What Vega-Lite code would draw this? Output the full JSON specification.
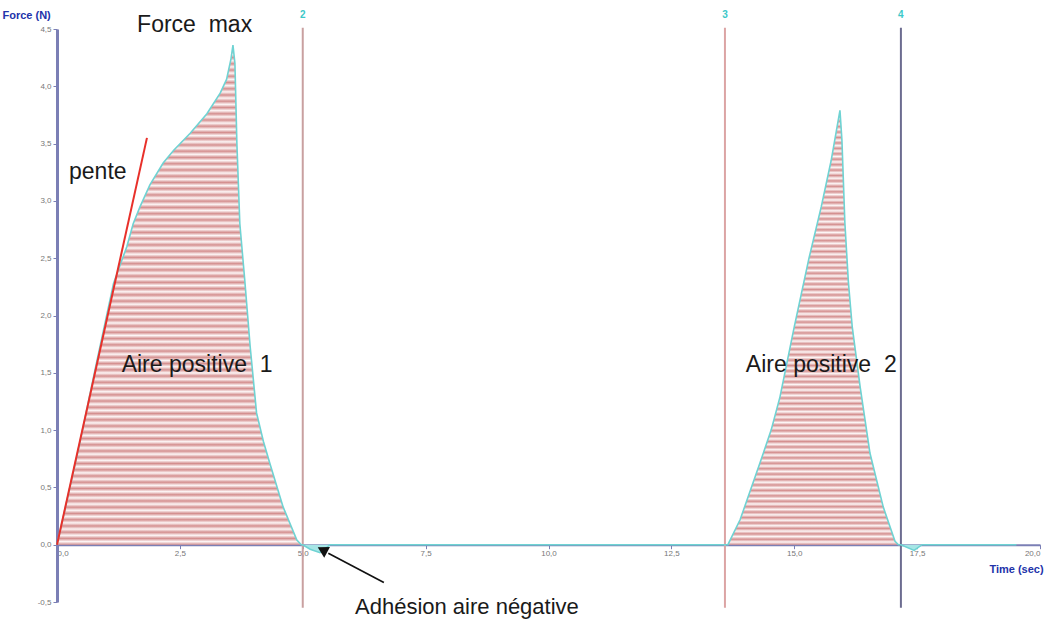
{
  "$schema": "https://vega.github.io/schema/vega-lite/v6.json",
  "width": 983,
  "height": 573,
  "autosize": {"type": "none"},
  "padding": {"left": 57, "top": 29, "right": 15, "bottom": 21},
  "background": "white",
  "config": {
    "view": {"stroke": null},
    "locale": {"number": {"decimal": ",", "thousands": " ", "grouping": [3], "currency": ["", " €"], "minus": "-"}},
    "font": "Liberation Sans"
  },
  "datasets": {
    "curve": [
      {"t": 0, "f": 0, "part": "pos1"},
      {"t": 0.45, "f": 0.86, "part": "pos1"},
      {"t": 0.8, "f": 1.58, "part": "pos1"},
      {"t": 1.15, "f": 2.28, "part": "pos1"},
      {"t": 1.3, "f": 2.46, "part": "pos1"},
      {"t": 1.42, "f": 2.6, "part": "pos1"},
      {"t": 1.55, "f": 2.8, "part": "pos1"},
      {"t": 1.69, "f": 2.95, "part": "pos1"},
      {"t": 1.89, "f": 3.14, "part": "pos1"},
      {"t": 2.16, "f": 3.33, "part": "pos1"},
      {"t": 2.37, "f": 3.44, "part": "pos1"},
      {"t": 2.71, "f": 3.59, "part": "pos1"},
      {"t": 3.05, "f": 3.76, "part": "pos1"},
      {"t": 3.32, "f": 3.94, "part": "pos1"},
      {"t": 3.45, "f": 4.06, "part": "pos1"},
      {"t": 3.54, "f": 4.24, "part": "pos1"},
      {"t": 3.58, "f": 4.36, "part": "pos1"},
      {"t": 3.62, "f": 4.2, "part": "pos1"},
      {"t": 3.66, "f": 3.5, "part": "pos1"},
      {"t": 3.72, "f": 2.8, "part": "pos1"},
      {"t": 3.82, "f": 2.31, "part": "pos1"},
      {"t": 3.93, "f": 1.73, "part": "pos1"},
      {"t": 4.06, "f": 1.15, "part": "pos1"},
      {"t": 4.2, "f": 0.9, "part": "pos1"},
      {"t": 4.33, "f": 0.71, "part": "pos1"},
      {"t": 4.6, "f": 0.33, "part": "pos1"},
      {"t": 4.88, "f": 0.04, "part": "pos1"},
      {"t": 4.97, "f": 0, "part": "pos1"},
      {"t": 5.0, "f": 0, "part": "neg1"},
      {"t": 5.15, "f": -0.04, "part": "neg1"},
      {"t": 5.35, "f": -0.07, "part": "neg1"},
      {"t": 5.45, "f": -0.04, "part": "neg1"},
      {"t": 5.55, "f": 0, "part": "neg1"},
      {"t": 13.65, "f": 0, "part": "pos2"},
      {"t": 13.9, "f": 0.22, "part": "pos2"},
      {"t": 14.3, "f": 0.71, "part": "pos2"},
      {"t": 14.53, "f": 1.0, "part": "pos2"},
      {"t": 14.71, "f": 1.29, "part": "pos2"},
      {"t": 15.0, "f": 1.9, "part": "pos2"},
      {"t": 15.3, "f": 2.5, "part": "pos2"},
      {"t": 15.55, "f": 2.95, "part": "pos2"},
      {"t": 15.75, "f": 3.35, "part": "pos2"},
      {"t": 15.93, "f": 3.79, "part": "pos2"},
      {"t": 15.97, "f": 3.53, "part": "pos2"},
      {"t": 16.03, "f": 2.81, "part": "pos2"},
      {"t": 16.1, "f": 2.3, "part": "pos2"},
      {"t": 16.18, "f": 1.9, "part": "pos2"},
      {"t": 16.34, "f": 1.38, "part": "pos2"},
      {"t": 16.54, "f": 0.8, "part": "pos2"},
      {"t": 16.81, "f": 0.33, "part": "pos2"},
      {"t": 17.05, "f": 0.03, "part": "pos2"},
      {"t": 17.12, "f": 0, "part": "pos2"},
      {"t": 17.17, "f": 0, "part": "neg2"},
      {"t": 17.44, "f": -0.05, "part": "neg2"},
      {"t": 17.6, "f": 0, "part": "neg2"},
      {"t": 19.52, "f": 0, "part": "flat"}
    ],
    "markers": [
      {"t": 5.0, "label": "2"},
      {"t": 13.59, "label": "3"},
      {"t": 17.17, "label": "4"}
    ],
    "notes": [
      {"t": 2.8, "f": 4.535, "label": "Force\u00a0 max"},
      {"t": 0.83, "f": 3.25, "label": "pente"},
      {"t": 2.85, "f": 1.57, "label": "Aire positive\u00a0 1"},
      {"t": 15.55, "f": 1.57, "label": "Aire positive\u00a0 2"}
    ],
    "notes2": [
      {"t": 8.34, "f": -0.54, "label": "Adhésion aire négative"}
    ],
    "pente": [{"t": 0, "f": 0, "t2": 1.83, "f2": 3.55}],
    "arrow": [{"t": 6.65, "f": -0.33, "t2": 5.52, "f2": -0.075}],
    "arrowhead": [{"t": 5.4, "f": -0.045}]
  },
  "layer": [
    {
      "data": {"name": "curve"},
      "transform": [{"filter": "datum.part === 'pos1' || datum.part === 'pos2'"}],
      "mark": {
        "type": "area",
        "color": {
          "gradient": "linear", "x1": 0, "y1": 0, "x2": 0, "y2": 1,
          "stops": [
            {"offset": 0, "color": "#d48f8f"}, {"offset": 0.00625, "color": "#fdf6f6"},
            {"offset": 0.0125, "color": "#d48f8f"}, {"offset": 0.01875, "color": "#fdf6f6"},
            {"offset": 0.025, "color": "#d48f8f"}, {"offset": 0.03125, "color": "#fdf6f6"},
            {"offset": 0.0375, "color": "#d48f8f"}, {"offset": 0.04375, "color": "#fdf6f6"},
            {"offset": 0.05, "color": "#d48f8f"}, {"offset": 0.05625, "color": "#fdf6f6"},
            {"offset": 0.0625, "color": "#d48f8f"}, {"offset": 0.06875, "color": "#fdf6f6"},
            {"offset": 0.075, "color": "#d48f8f"}, {"offset": 0.08125, "color": "#fdf6f6"},
            {"offset": 0.0875, "color": "#d48f8f"}, {"offset": 0.09375, "color": "#fdf6f6"},
            {"offset": 0.1, "color": "#d48f8f"}, {"offset": 0.10625, "color": "#fdf6f6"},
            {"offset": 0.1125, "color": "#d48f8f"}, {"offset": 0.11875, "color": "#fdf6f6"},
            {"offset": 0.125, "color": "#d48f8f"}, {"offset": 0.13125, "color": "#fdf6f6"},
            {"offset": 0.1375, "color": "#d48f8f"}, {"offset": 0.14375, "color": "#fdf6f6"},
            {"offset": 0.15, "color": "#d48f8f"}, {"offset": 0.15625, "color": "#fdf6f6"},
            {"offset": 0.1625, "color": "#d48f8f"}, {"offset": 0.16875, "color": "#fdf6f6"},
            {"offset": 0.175, "color": "#d48f8f"}, {"offset": 0.18125, "color": "#fdf6f6"},
            {"offset": 0.1875, "color": "#d48f8f"}, {"offset": 0.19375, "color": "#fdf6f6"},
            {"offset": 0.2, "color": "#d48f8f"}, {"offset": 0.20625, "color": "#fdf6f6"},
            {"offset": 0.2125, "color": "#d48f8f"}, {"offset": 0.21875, "color": "#fdf6f6"},
            {"offset": 0.225, "color": "#d48f8f"}, {"offset": 0.23125, "color": "#fdf6f6"},
            {"offset": 0.2375, "color": "#d48f8f"}, {"offset": 0.24375, "color": "#fdf6f6"},
            {"offset": 0.25, "color": "#d48f8f"}, {"offset": 0.25625, "color": "#fdf6f6"},
            {"offset": 0.2625, "color": "#d48f8f"}, {"offset": 0.26875, "color": "#fdf6f6"},
            {"offset": 0.275, "color": "#d48f8f"}, {"offset": 0.28125, "color": "#fdf6f6"},
            {"offset": 0.2875, "color": "#d48f8f"}, {"offset": 0.29375, "color": "#fdf6f6"},
            {"offset": 0.3, "color": "#d48f8f"}, {"offset": 0.30625, "color": "#fdf6f6"},
            {"offset": 0.3125, "color": "#d48f8f"}, {"offset": 0.31875, "color": "#fdf6f6"},
            {"offset": 0.325, "color": "#d48f8f"}, {"offset": 0.33125, "color": "#fdf6f6"},
            {"offset": 0.3375, "color": "#d48f8f"}, {"offset": 0.34375, "color": "#fdf6f6"},
            {"offset": 0.35, "color": "#d48f8f"}, {"offset": 0.35625, "color": "#fdf6f6"},
            {"offset": 0.3625, "color": "#d48f8f"}, {"offset": 0.36875, "color": "#fdf6f6"},
            {"offset": 0.375, "color": "#d48f8f"}, {"offset": 0.38125, "color": "#fdf6f6"},
            {"offset": 0.3875, "color": "#d48f8f"}, {"offset": 0.39375, "color": "#fdf6f6"},
            {"offset": 0.4, "color": "#d48f8f"}, {"offset": 0.40625, "color": "#fdf6f6"},
            {"offset": 0.4125, "color": "#d48f8f"}, {"offset": 0.41875, "color": "#fdf6f6"},
            {"offset": 0.425, "color": "#d48f8f"}, {"offset": 0.43125, "color": "#fdf6f6"},
            {"offset": 0.4375, "color": "#d48f8f"}, {"offset": 0.44375, "color": "#fdf6f6"},
            {"offset": 0.45, "color": "#d48f8f"}, {"offset": 0.45625, "color": "#fdf6f6"},
            {"offset": 0.4625, "color": "#d48f8f"}, {"offset": 0.46875, "color": "#fdf6f6"},
            {"offset": 0.475, "color": "#d48f8f"}, {"offset": 0.48125, "color": "#fdf6f6"},
            {"offset": 0.4875, "color": "#d48f8f"}, {"offset": 0.49375, "color": "#fdf6f6"},
            {"offset": 0.5, "color": "#d48f8f"}, {"offset": 0.50625, "color": "#fdf6f6"},
            {"offset": 0.5125, "color": "#d48f8f"}, {"offset": 0.51875, "color": "#fdf6f6"},
            {"offset": 0.525, "color": "#d48f8f"}, {"offset": 0.53125, "color": "#fdf6f6"},
            {"offset": 0.5375, "color": "#d48f8f"}, {"offset": 0.54375, "color": "#fdf6f6"},
            {"offset": 0.55, "color": "#d48f8f"}, {"offset": 0.55625, "color": "#fdf6f6"},
            {"offset": 0.5625, "color": "#d48f8f"}, {"offset": 0.56875, "color": "#fdf6f6"},
            {"offset": 0.575, "color": "#d48f8f"}, {"offset": 0.58125, "color": "#fdf6f6"},
            {"offset": 0.5875, "color": "#d48f8f"}, {"offset": 0.59375, "color": "#fdf6f6"},
            {"offset": 0.6, "color": "#d48f8f"}, {"offset": 0.60625, "color": "#fdf6f6"},
            {"offset": 0.6125, "color": "#d48f8f"}, {"offset": 0.61875, "color": "#fdf6f6"},
            {"offset": 0.625, "color": "#d48f8f"}, {"offset": 0.63125, "color": "#fdf6f6"},
            {"offset": 0.6375, "color": "#d48f8f"}, {"offset": 0.64375, "color": "#fdf6f6"},
            {"offset": 0.65, "color": "#d48f8f"}, {"offset": 0.65625, "color": "#fdf6f6"},
            {"offset": 0.6625, "color": "#d48f8f"}, {"offset": 0.66875, "color": "#fdf6f6"},
            {"offset": 0.675, "color": "#d48f8f"}, {"offset": 0.68125, "color": "#fdf6f6"},
            {"offset": 0.6875, "color": "#d48f8f"}, {"offset": 0.69375, "color": "#fdf6f6"},
            {"offset": 0.7, "color": "#d48f8f"}, {"offset": 0.70625, "color": "#fdf6f6"},
            {"offset": 0.7125, "color": "#d48f8f"}, {"offset": 0.71875, "color": "#fdf6f6"},
            {"offset": 0.725, "color": "#d48f8f"}, {"offset": 0.73125, "color": "#fdf6f6"},
            {"offset": 0.7375, "color": "#d48f8f"}, {"offset": 0.74375, "color": "#fdf6f6"},
            {"offset": 0.75, "color": "#d48f8f"}, {"offset": 0.75625, "color": "#fdf6f6"},
            {"offset": 0.7625, "color": "#d48f8f"}, {"offset": 0.76875, "color": "#fdf6f6"},
            {"offset": 0.775, "color": "#d48f8f"}, {"offset": 0.78125, "color": "#fdf6f6"},
            {"offset": 0.7875, "color": "#d48f8f"}, {"offset": 0.79375, "color": "#fdf6f6"},
            {"offset": 0.8, "color": "#d48f8f"}, {"offset": 0.80625, "color": "#fdf6f6"},
            {"offset": 0.8125, "color": "#d48f8f"}, {"offset": 0.81875, "color": "#fdf6f6"},
            {"offset": 0.825, "color": "#d48f8f"}, {"offset": 0.83125, "color": "#fdf6f6"},
            {"offset": 0.8375, "color": "#d48f8f"}, {"offset": 0.84375, "color": "#fdf6f6"},
            {"offset": 0.85, "color": "#d48f8f"}, {"offset": 0.85625, "color": "#fdf6f6"},
            {"offset": 0.8625, "color": "#d48f8f"}, {"offset": 0.86875, "color": "#fdf6f6"},
            {"offset": 0.875, "color": "#d48f8f"}, {"offset": 0.88125, "color": "#fdf6f6"},
            {"offset": 0.8875, "color": "#d48f8f"}, {"offset": 0.89375, "color": "#fdf6f6"},
            {"offset": 0.9, "color": "#d48f8f"}, {"offset": 0.90625, "color": "#fdf6f6"},
            {"offset": 0.9125, "color": "#d48f8f"}, {"offset": 0.91875, "color": "#fdf6f6"},
            {"offset": 0.925, "color": "#d48f8f"}, {"offset": 0.93125, "color": "#fdf6f6"},
            {"offset": 0.9375, "color": "#d48f8f"}, {"offset": 0.94375, "color": "#fdf6f6"},
            {"offset": 0.95, "color": "#d48f8f"}, {"offset": 0.95625, "color": "#fdf6f6"},
            {"offset": 0.9625, "color": "#d48f8f"}, {"offset": 0.96875, "color": "#fdf6f6"},
            {"offset": 0.975, "color": "#d48f8f"}, {"offset": 0.98125, "color": "#fdf6f6"},
            {"offset": 0.9875, "color": "#d48f8f"}, {"offset": 0.99375, "color": "#fdf6f6"},
            {"offset": 1, "color": "#d48f8f"}
          ]
        }
      },
      "encoding": {
        "x": {
          "field": "t", "type": "quantitative",
          "scale": {"domain": [0, 20], "nice": false, "zero": false},
          "axis": {
            "title": "Time (sec)", "titleColor": "#2233aa", "titleFontSize": 11, "titleFontWeight": "bold",
            "titleFont": "Liberation Sans",
            "titleX": 959, "titleY": 25, "titleAlign": "center", "titleBaseline": "middle",
            "offset": -57.3, "values": [0, 2.5, 5, 7.5, 10, 12.5, 15, 17.5, 20], "format": ".1f",
            "domainColor": "#7b7fb5", "domainWidth": 2, "tickColor": "#7b7fb5", "tickSize": 4,
            "labelColor": "#777777", "labelFontSize": 8, "labelFont": "Liberation Sans", "labelPadding": 1, "grid": false
          }
        },
        "y": {
          "field": "f", "type": "quantitative",
          "scale": {"domain": [-0.5, 4.5], "nice": false, "zero": false},
          "axis": {
            "title": "Force (N)", "titleColor": "#2233aa", "titleFontSize": 11, "titleFontWeight": "bold",
            "titleFont": "Liberation Sans",
            "titleAngle": 0, "titleX": -55, "titleY": -14, "titleAlign": "left", "titleBaseline": "middle",
            "values": [-0.5, 0, 0.5, 1, 1.5, 2, 2.5, 3, 3.5, 4, 4.5], "format": ".1f",
            "domainColor": "#7b7fb5", "domainWidth": 3, "tickColor": "#7b7fb5", "tickSize": 4,
            "labelColor": "#777777", "labelFontSize": 8, "labelFont": "Liberation Sans", "labelPadding": 2, "grid": false
          }
        },
        "detail": {"field": "part"}
      }
    },
    {
      "data": {"name": "curve"},
      "transform": [{"filter": "datum.part === 'neg1' || datum.part === 'neg2'"}],
      "mark": {"type": "area", "color": "#a6e6e6"},
      "encoding": {
        "x": {"field": "t", "type": "quantitative"},
        "y": {"field": "f", "type": "quantitative"},
        "detail": {"field": "part"}
      }
    },
    {
      "data": {"name": "markers"},
      "mark": {"type": "rule", "strokeWidth": 2},
      "encoding": {
        "x": {"field": "t", "type": "quantitative"},
        "y": {"datum": 4.51},
        "y2": {"datum": -0.55},
        "color": {"field": "label", "type": "nominal", "legend": null,
                  "scale": {"domain": ["2", "3", "4"], "range": ["#c9a0a0", "#dca4a4", "#6c6c90"]}}
      }
    },
    {
      "data": {"name": "markers"},
      "mark": {"type": "text", "dy": -14, "fontSize": 10, "fontWeight": "bold", "color": "#3cc8c8", "font": "Liberation Sans"},
      "encoding": {
        "x": {"field": "t", "type": "quantitative"},
        "y": {"datum": 4.5},
        "text": {"field": "label"}
      }
    },
    {
      "data": {"name": "curve"},
      "mark": {"type": "line", "color": "#6fd3d3", "strokeWidth": 1.6},
      "encoding": {
        "x": {"field": "t", "type": "quantitative"},
        "y": {"field": "f", "type": "quantitative"},
        "order": {"field": "t"}
      }
    },
    {
      "data": {"name": "pente"},
      "mark": {"type": "rule", "color": "#e8302a", "strokeWidth": 2},
      "encoding": {
        "x": {"field": "t", "type": "quantitative"},
        "y": {"field": "f", "type": "quantitative"},
        "x2": {"field": "t2"}, "y2": {"field": "f2"}
      }
    },
    {
      "data": {"name": "arrow"},
      "mark": {"type": "rule", "color": "#111111", "strokeWidth": 1.6},
      "encoding": {
        "x": {"field": "t", "type": "quantitative"},
        "y": {"field": "f", "type": "quantitative"},
        "x2": {"field": "t2"}, "y2": {"field": "f2"}
      }
    },
    {
      "data": {"name": "arrowhead"},
      "mark": {"type": "point", "shape": "triangle-left", "filled": true, "color": "#111111", "opacity": 1, "size": 150, "angle": 28},
      "encoding": {
        "x": {"field": "t", "type": "quantitative"},
        "y": {"field": "f", "type": "quantitative"}
      }
    },
    {
      "data": {"name": "notes"},
      "mark": {"type": "text", "font": "Liberation Sans", "fontSize": 23, "color": "#1a1a1a", "baseline": "middle"},
      "encoding": {
        "x": {"field": "t", "type": "quantitative"},
        "y": {"field": "f", "type": "quantitative"},
        "text": {"field": "label"}
      }
    },
    {
      "data": {"name": "notes2"},
      "mark": {"type": "text", "font": "Liberation Sans", "fontSize": 22, "color": "#1a1a1a", "baseline": "middle"},
      "encoding": {
        "x": {"field": "t", "type": "quantitative"},
        "y": {"field": "f", "type": "quantitative"},
        "text": {"field": "label"}
      }
    }
  ]
}
